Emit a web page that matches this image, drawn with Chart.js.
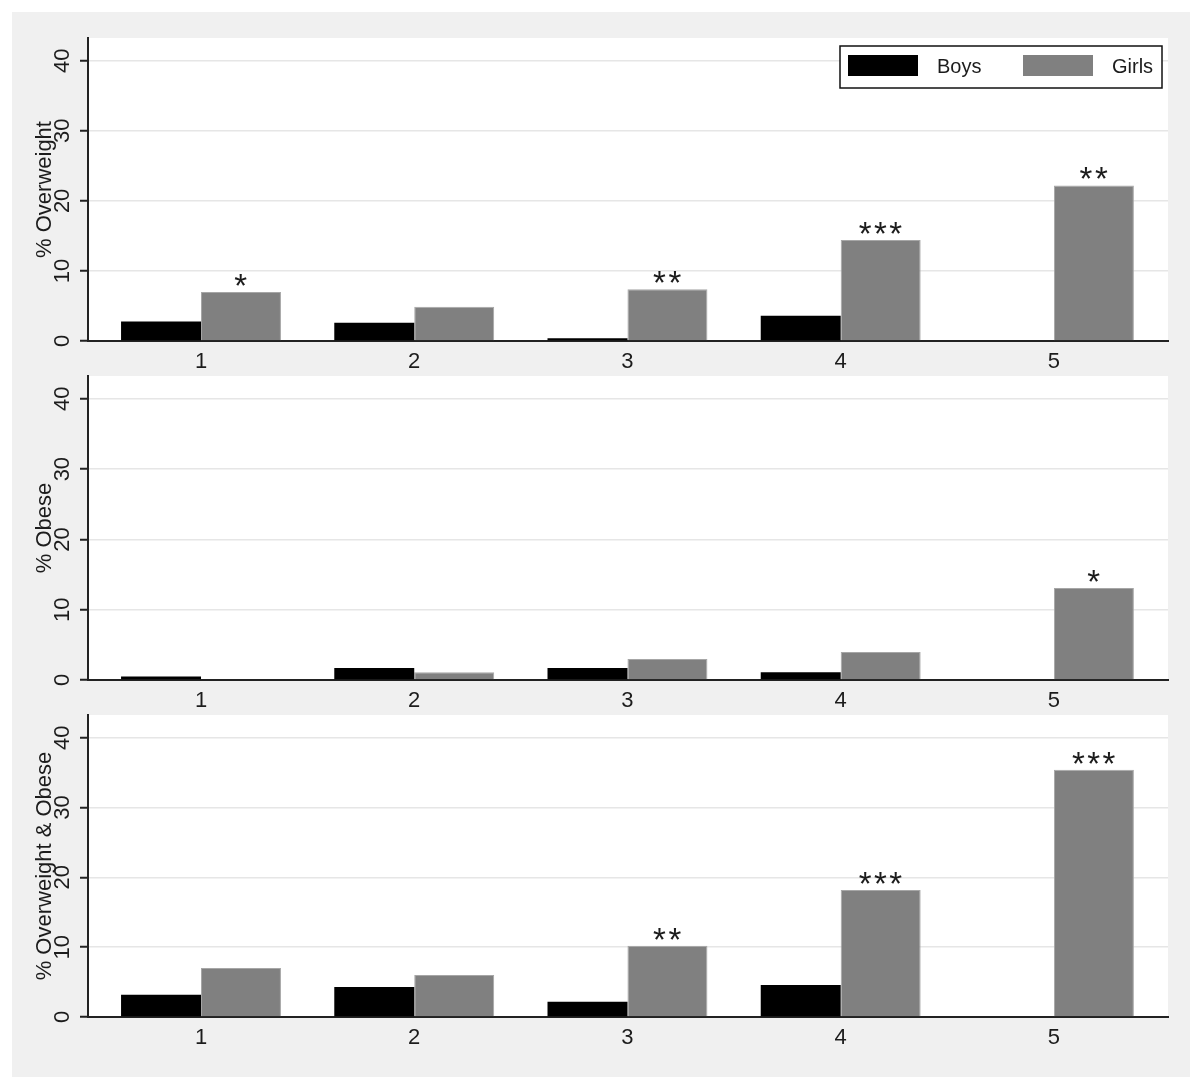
<!DOCTYPE html>
<html>
<head>
<meta charset="utf-8">
<script src="https://cdn.jsdelivr.net/npm/chart.js@4.4.1/dist/chart.umd.min.js"></script>
<style>
  html, body { margin: 0; background: #fff; }
  #frame { position: absolute; left: 12px; top: 12px; width: 1178px; height: 1065px; background: #f0f0f0; }
  canvas { position: absolute; left: 0; }
</style>
</head>
<body>
<div id="frame">
  <canvas id="overweightChart" width="1178" height="358" style="top:0px"></canvas>
  <canvas id="obeseChart" width="1178" height="338" style="top:358px"></canvas>
  <canvas id="bothChart" width="1178" height="369" style="top:696px"></canvas>
</div>
<script>
// groups on the x axis
const groups = [1, 2, 3, 4, 5];
const yTicks = [0, 10, 20, 30, 40];

// % overweight
const boysOverweight  = [2.8, 2.6, 0.4, 3.6, 0];
const girlsOverweight = [7.0, 4.9, 7.4, 14.4, 22.2];
const starsOverweight = ['*', '', '**', '***', '**'];

// % obese
const boysObese  = [0.5, 1.7, 1.7, 1.1, 0];
const girlsObese = [0, 1.1, 3.0, 4.0, 13.1];
const starsObese = ['', '', '', '', '*'];

// % overweight & obese
const boysBoth  = [3.2, 4.3, 2.2, 4.6, 0];
const girlsBoth = [7.0, 6.0, 10.2, 18.2, 35.4];
const starsBoth = ['', '', '**', '***', '***'];

const FONT = '"Liberation Sans", Arial, Helvetica, sans-serif';
const INK = '#1c1c1c';

// white plot region on the grey page
const panelBackground = {
    id: 'panelBackground',
    beforeDraw(chart) {
        const { ctx, chartArea: a } = chart;
        ctx.save();
        ctx.fillStyle = '#ffffff';
        ctx.fillRect(a.left, a.top, a.right - a.left, a.bottom - a.top);
        ctx.restore();
    }
};

// significance stars over the girls' bars
const starLabels = {
    id: 'starLabels',
    afterDatasetsDraw(chart, args, opts) {
        const marks = opts.marks || [];
        const meta = chart.getDatasetMeta(1);
        const ctx = chart.ctx;
        ctx.save();
        ctx.font = '33px ' + FONT;
        ctx.letterSpacing = '2.5px';
        ctx.fillStyle = INK;
        ctx.textAlign = 'center';
        ctx.textBaseline = 'alphabetic';
        meta.data.forEach((bar, i) => {
            if (!marks[i]) return;
            ctx.fillText(marks[i], bar.x + 1, bar.y + 5);
        });
        ctx.restore();
    }
};

// boxed legend inside the first panel
const boxLegend = {
    id: 'boxLegend',
    afterDraw(chart, args, opts) {
        if (!opts.show) return;
        const { ctx, chartArea: a } = chart;
        const x0 = a.right - 328, y0 = a.top + 8, w = 322, h = 42;
        ctx.save();
        ctx.fillStyle = '#fff';
        ctx.fillRect(x0, y0, w, h);
        ctx.strokeStyle = '#111';
        ctx.lineWidth = 1.5;
        ctx.strokeRect(x0, y0, w, h);
        ctx.font = '20px ' + FONT;
        ctx.textBaseline = 'middle';
        const slots = [8, 183];
        chart.data.datasets.forEach((ds, i) => {
            const sx = x0 + slots[i];
            ctx.fillStyle = ds.backgroundColor;
            ctx.fillRect(sx, y0 + 9, 70, 21);
            ctx.fillStyle = INK;
            ctx.fillText(ds.label, sx + 89, y0 + 21);
        });
        ctx.restore();
    }
};

function makePanel(id, boys, girls, stars, title, box, legend) {
    const canvas = document.getElementById(id);
    return new Chart(canvas.getContext('2d'), {
        type: 'bar',
        data: {
            datasets: [
                { label: 'Boys', data: groups.map((g, i) => ({ x: g, y: boys[i] })),
                  backgroundColor: '#000000', borderWidth: 0 },
                { label: 'Girls', data: groups.map((g, i) => ({ x: g, y: girls[i] })),
                  backgroundColor: '#808080', borderColor: '#a6a6a6', borderWidth: 1 }
            ]
        },
        options: {
            responsive: false,
            animation: false,
            categoryPercentage: 0.75,
            barPercentage: 1.0,
            layout: { padding: { top: box.top, right: 22, bottom: box.bottom, left: 0 } },
            plugins: {
                legend: { display: false },
                tooltip: { enabled: false },
                starLabels: { marks: stars },
                boxLegend: { show: legend }
            },
            scales: {
                x: {
                    type: 'linear',
                    offset: false,
                    min: 0.47,
                    max: 5.535,
                    afterBuildTicks: s => { s.ticks = groups.map(v => ({ value: v })); },
                    afterFit: s => { s.height = 28; s.paddingLeft = 0; s.paddingRight = 0; },
                    grid: { display: true, drawOnChartArea: false, drawTicks: false },
                    border: { color: '#222', width: 2 },
                    ticks: { font: { size: 22, family: FONT }, color: INK, padding: 8 }
                },
                y: {
                    min: 0,
                    max: 43.25,
                    afterBuildTicks: s => { s.ticks = yTicks.map(v => ({ value: v })); },
                    afterFit: s => { s.width = 76; s.paddingTop = 0; s.paddingBottom = 0; },
                    grid: { color: '#e6e6e6', lineWidth: 1.5, tickColor: '#222', tickLength: 8, tickWidth: 2 },
                    border: { color: '#222', width: 2 },
                    ticks: { font: { size: 22, family: FONT }, color: INK, minRotation: 90, maxRotation: 90,
                             crossAlign: 'center', padding: 5 },
                    title: { display: true, text: title, font: { size: 22, family: FONT }, color: INK,
                             padding: { top: 20, bottom: 0 } }
                }
            }
        },
        plugins: [panelBackground, starLabels, boxLegend]
    });
}

makePanel('overweightChart', boysOverweight, girlsOverweight, starsOverweight, '% Overweight', { top: 26, bottom: 1 }, true);
makePanel('obeseChart', boysObese, girlsObese, starsObese, '% Obese', { top: 6, bottom: 0 }, false);
makePanel('bothChart', boysBoth, girlsBoth, starsBoth, '% Overweight & Obese', { top: 7, bottom: 32 }, false);
</script>
</body>
</html>
